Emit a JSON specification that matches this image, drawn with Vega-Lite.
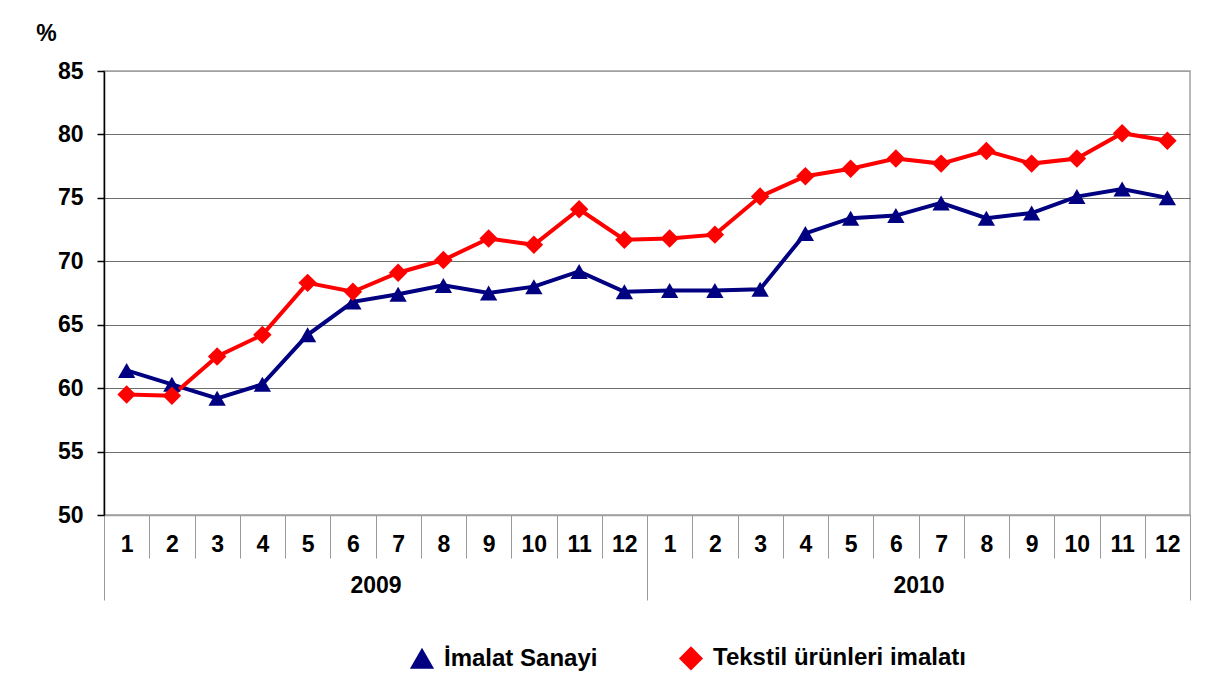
{
  "$schema": "https://vega.github.io/schema/vega-lite/v6.json",
  "width": 1086,
  "height": 444,
  "autosize": {"type": "none"},
  "padding": {"left": 104, "top": 71, "right": 28, "bottom": 178},
  "background": "white",
  "config": {"view": {"stroke": "#a0a0a0", "strokeWidth": 1.5}, "font": "Liberation Sans"},
  "data": {
    "values": [
      {"ym": "2009-01", "year": "2009", "series": "İmalat Sanayi", "value": 61.4},
      {"ym": "2009-02", "year": "2009", "series": "İmalat Sanayi", "value": 60.3},
      {"ym": "2009-03", "year": "2009", "series": "İmalat Sanayi", "value": 59.2},
      {"ym": "2009-04", "year": "2009", "series": "İmalat Sanayi", "value": 60.3},
      {"ym": "2009-05", "year": "2009", "series": "İmalat Sanayi", "value": 64.2},
      {"ym": "2009-06", "year": "2009", "series": "İmalat Sanayi", "value": 66.8},
      {"ym": "2009-07", "year": "2009", "series": "İmalat Sanayi", "value": 67.4},
      {"ym": "2009-08", "year": "2009", "series": "İmalat Sanayi", "value": 68.1},
      {"ym": "2009-09", "year": "2009", "series": "İmalat Sanayi", "value": 67.5},
      {"ym": "2009-10", "year": "2009", "series": "İmalat Sanayi", "value": 68.0},
      {"ym": "2009-11", "year": "2009", "series": "İmalat Sanayi", "value": 69.2},
      {"ym": "2009-12", "year": "2009", "series": "İmalat Sanayi", "value": 67.6},
      {"ym": "2010-01", "year": "2010", "series": "İmalat Sanayi", "value": 67.7},
      {"ym": "2010-02", "year": "2010", "series": "İmalat Sanayi", "value": 67.7},
      {"ym": "2010-03", "year": "2010", "series": "İmalat Sanayi", "value": 67.8},
      {"ym": "2010-04", "year": "2010", "series": "İmalat Sanayi", "value": 72.2},
      {"ym": "2010-05", "year": "2010", "series": "İmalat Sanayi", "value": 73.4},
      {"ym": "2010-06", "year": "2010", "series": "İmalat Sanayi", "value": 73.6},
      {"ym": "2010-07", "year": "2010", "series": "İmalat Sanayi", "value": 74.6},
      {"ym": "2010-08", "year": "2010", "series": "İmalat Sanayi", "value": 73.4},
      {"ym": "2010-09", "year": "2010", "series": "İmalat Sanayi", "value": 73.8},
      {"ym": "2010-10", "year": "2010", "series": "İmalat Sanayi", "value": 75.1},
      {"ym": "2010-11", "year": "2010", "series": "İmalat Sanayi", "value": 75.7},
      {"ym": "2010-12", "year": "2010", "series": "İmalat Sanayi", "value": 75.0},
      {"ym": "2009-01", "year": "2009", "series": "Tekstil ürünleri imalatı", "value": 59.5},
      {"ym": "2009-02", "year": "2009", "series": "Tekstil ürünleri imalatı", "value": 59.4},
      {"ym": "2009-03", "year": "2009", "series": "Tekstil ürünleri imalatı", "value": 62.5},
      {"ym": "2009-04", "year": "2009", "series": "Tekstil ürünleri imalatı", "value": 64.2},
      {"ym": "2009-05", "year": "2009", "series": "Tekstil ürünleri imalatı", "value": 68.3},
      {"ym": "2009-06", "year": "2009", "series": "Tekstil ürünleri imalatı", "value": 67.6},
      {"ym": "2009-07", "year": "2009", "series": "Tekstil ürünleri imalatı", "value": 69.1},
      {"ym": "2009-08", "year": "2009", "series": "Tekstil ürünleri imalatı", "value": 70.1},
      {"ym": "2009-09", "year": "2009", "series": "Tekstil ürünleri imalatı", "value": 71.8},
      {"ym": "2009-10", "year": "2009", "series": "Tekstil ürünleri imalatı", "value": 71.3},
      {"ym": "2009-11", "year": "2009", "series": "Tekstil ürünleri imalatı", "value": 74.1},
      {"ym": "2009-12", "year": "2009", "series": "Tekstil ürünleri imalatı", "value": 71.7},
      {"ym": "2010-01", "year": "2010", "series": "Tekstil ürünleri imalatı", "value": 71.8},
      {"ym": "2010-02", "year": "2010", "series": "Tekstil ürünleri imalatı", "value": 72.1},
      {"ym": "2010-03", "year": "2010", "series": "Tekstil ürünleri imalatı", "value": 75.1},
      {"ym": "2010-04", "year": "2010", "series": "Tekstil ürünleri imalatı", "value": 76.7},
      {"ym": "2010-05", "year": "2010", "series": "Tekstil ürünleri imalatı", "value": 77.3},
      {"ym": "2010-06", "year": "2010", "series": "Tekstil ürünleri imalatı", "value": 78.1},
      {"ym": "2010-07", "year": "2010", "series": "Tekstil ürünleri imalatı", "value": 77.7},
      {"ym": "2010-08", "year": "2010", "series": "Tekstil ürünleri imalatı", "value": 78.7},
      {"ym": "2010-09", "year": "2010", "series": "Tekstil ürünleri imalatı", "value": 77.7},
      {"ym": "2010-10", "year": "2010", "series": "Tekstil ürünleri imalatı", "value": 78.1},
      {"ym": "2010-11", "year": "2010", "series": "Tekstil ürünleri imalatı", "value": 80.1},
      {"ym": "2010-12", "year": "2010", "series": "Tekstil ürünleri imalatı", "value": 79.5}
    ]
  },
  "layer": [
    {
      "encoding": {
        "x": {
          "field": "ym",
          "type": "ordinal",
          "bandPosition": 0.5,
          "scale": {"type": "band", "paddingInner": 0, "paddingOuter": 0},
          "axis": {
            "orient": "bottom",
            "title": null,
            "labelExpr": "datum.label ? '' + toNumber(slice(datum.label, 5)) : ''",
            "labelAngle": 0,
            "tickBand": "extent",
            "tickSize": 43,
            "tickColor": "#999999",
            "tickWidth": 1,
            "domainColor": "#a0a0a0",
            "domainWidth": 1.5,
            "labelPadding": -14,
            "labelBaseline": "middle",
            "labelFont": "Liberation Sans",
            "labelFontSize": 23,
            "labelFontWeight": "bold",
            "labelColor": "black",
            "grid": false
          }
        },
        "y": {
          "field": "value",
          "type": "quantitative",
          "scale": {"domain": [50, 85], "nice": false, "zero": false},
          "axis": {
            "values": [50, 55, 60, 65, 70, 75, 80, 85],
            "title": "%",
            "titleAngle": 0,
            "titleX": -58,
            "titleY": -38,
            "titleAlign": "center",
            "titleBaseline": "middle",
            "titleFont": "Liberation Sans",
            "titleFontSize": 23,
            "titleFontWeight": "bold",
            "titleColor": "black",
            "labelFont": "Liberation Sans",
            "labelFontSize": 23,
            "labelFontWeight": "bold",
            "labelColor": "black",
            "labelPadding": 14,
            "tickSize": 7,
            "tickColor": "black",
            "tickWidth": 1.5,
            "domainColor": "black",
            "domainWidth": 1.5,
            "grid": true,
            "gridColor": {"condition": {"test": "datum.value == 85 || datum.value == 50", "value": "#a0a0a0"}, "value": "#6e6e6e"},
            "gridWidth": 1.2
          }
        },
        "color": {
          "field": "series",
          "type": "nominal",
          "scale": {"domain": ["İmalat Sanayi", "Tekstil ürünleri imalatı"], "range": ["#000080", "#ff0000"]},
          "legend": {
            "orient": "none",
            "legendX": 306,
            "legendY": 575,
            "direction": "horizontal",
            "title": null,
            "labelFont": "Liberation Sans",
            "labelFontSize": 24,
            "labelFontWeight": "bold",
            "labelColor": "black",
            "labelLimit": 400,
            "symbolSize": 289,
            "symbolStrokeWidth": 4,
            "labelOffset": 10,
            "columnPadding": 75
          }
        }
      },
      "layer": [
        {"mark": {"type": "line", "strokeWidth": 4}, "encoding": {}},
        {
          "mark": {"type": "point", "filled": true, "opacity": 1},
          "encoding": {
            "shape": {
              "field": "series",
              "type": "nominal",
              "scale": {"domain": ["İmalat Sanayi", "Tekstil ürünleri imalatı"], "range": ["triangle-up", "diamond"]}
            },
            "size": {
              "field": "series",
              "type": "nominal",
              "scale": {"domain": ["İmalat Sanayi", "Tekstil ürünleri imalatı"], "range": [300, 340]},
              "legend": null
            }
          }
        }
      ]
    },
    {
      "mark": {"type": "point", "opacity": 0},
      "encoding": {
        "x": {
          "field": "year",
          "type": "nominal",
          "scale": {"type": "band", "paddingInner": 0, "paddingOuter": 0},
          "axis": {
            "orient": "bottom",
            "title": null,
            "labelAngle": 0,
            "tickBand": "extent",
            "tickSize": 85,
            "tickColor": "#999999",
            "tickWidth": 1,
            "domain": false,
            "labelPadding": -15,
            "labelBaseline": "middle",
            "labelFont": "Liberation Sans",
            "labelFontSize": 23,
            "labelFontWeight": "bold",
            "labelColor": "black",
            "grid": false
          }
        }
      }
    }
  ],
  "resolve": {"scale": {"x": "independent"}}
}
